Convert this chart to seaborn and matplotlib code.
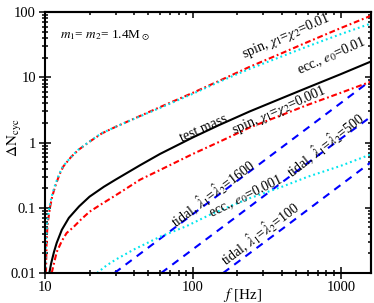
import matplotlib
matplotlib.use("Agg")
import seaborn as sns
import matplotlib.pyplot as plt
from matplotlib.ticker import FixedLocator, NullFormatter

sns.set_theme(style="ticks")
plt.rcParams['font.family'] = ['Liberation Serif', 'DejaVu Serif']
plt.rcParams['mathtext.fontset'] = 'stix'
plt.rcParams['lines.scale_dashes'] = False
plt.rcParams['text.color'] = 'black'
plt.rcParams['axes.labelcolor'] = 'black'

# values
f_spin_hi = [10.15, 10.25, 10.4, 10.8, 11.2, 11.7, 12.5, 13.3, 15, 16.8, 20, 24.2, 30,
             42.6, 60, 100, 150, 242, 400, 600, 1000, 1600]
n_spin_hi = [0.01, 0.03, 0.055, 0.1, 0.15, 0.21, 0.32, 0.43, 0.6, 0.77, 1.03, 1.38, 1.74,
             2.48, 3.5, 5.8, 8.8, 14.5, 23.5, 35, 57, 88]

f_ecc_hi = [10.05, 10.15, 10.35, 10.7, 11.1, 11.6, 12.4, 13.2, 15, 16.7, 20, 24, 30,
            42.6, 60, 100, 150, 242, 400, 600, 1000, 1600]
n_ecc_hi = [0.01, 0.03, 0.06, 0.1, 0.15, 0.21, 0.32, 0.43, 0.6, 0.77, 1.04, 1.38, 1.74,
            2.45, 3.4, 5.6, 8.5, 13.5, 21, 30, 46, 67]

f_test = [10.7, 11.0, 11.5, 12, 13, 14.5, 17, 20, 25, 30, 44, 60, 100, 150, 242, 400,
          600, 1000, 1600]
n_test = [0.01, 0.014, 0.021, 0.029, 0.046, 0.07, 0.105, 0.148, 0.21, 0.27, 0.45, 0.67,
          1.2, 1.85, 3.0, 4.8, 7.0, 11.2, 17.5]

f_spin_lo = [11.1, 11.5, 12, 13, 14, 15.5, 17.5, 20, 25, 30, 44, 60, 100, 150, 242, 400,
             600, 1000, 1600]
n_spin_lo = [0.01, 0.014, 0.021, 0.031, 0.041, 0.05, 0.066, 0.087, 0.12, 0.155, 0.27,
             0.38, 0.67, 1.02, 1.7, 2.65, 3.8, 5.8, 8.6]

f_ecc_lo = [22.5, 26, 30, 40, 60, 90, 130, 177, 242, 400, 600, 1000, 1600]
n_ecc_lo = [0.01, 0.013, 0.016, 0.023, 0.036, 0.052, 0.078, 0.105, 0.14, 0.21, 0.3,
            0.44, 0.66]

f_tidal_1600 = [29.5, 100, 300, 1600]
n_tidal_1600 = [0.01, 0.08, 0.52, 9.0]
f_tidal_500 = [61, 200, 600, 1600]
n_tidal_500 = [0.01, 0.075, 0.49, 2.5]
f_tidal_100 = [160, 400, 1600]
n_tidal_100 = [0.01, 0.047, 0.5]

y_ticks = [0.01, 0.1, 1, 10, 100]
y_ticklabels = ["0.01", "0.1", "1", "10", "100"]
x_ticks = [10, 100, 1000]
x_ticklabels = ["10", "100", "1000"]

fig = plt.figure(figsize=(3.74, 3.03), dpi=100)
ax = fig.add_axes([0.1203, 0.099, 0.8717, 0.861])
ax.set_xscale("log")
ax.set_yscale("log")

red, cyan, blue = "#ff0000", "#00e5ee", "#0000ff"
dashdot = (4.2, 2.0, 1.3, 2.0)
dotted = (1.3, 2.2)
dashed = (5.5, 4.5)

series = [
    (f_tidal_1600, n_tidal_1600, blue, dashed),
    (f_tidal_500, n_tidal_500, blue, dashed),
    (f_tidal_100, n_tidal_100, blue, dashed),
    (f_ecc_lo, n_ecc_lo, cyan, dotted),
    (f_spin_lo, n_spin_lo, red, dashdot),
    (f_test, n_test, "black", None),
    (f_spin_hi, n_spin_hi, red, dashdot),
    (f_ecc_hi, n_ecc_hi, cyan, dotted),
]
for fx, ny, col, ds in series:
    kw = {} if ds is None else {"dashes": ds}
    sns.lineplot(x=fx, y=ny, ax=ax, color=col, lw=1.5, sort=False,
                 estimator=None, **kw)

ax.set_xlim(10, 1600)
ax.set_ylim(0.01, 100)

ax.yaxis.set_major_locator(FixedLocator(y_ticks))
ax.set_yticklabels(y_ticklabels)
ax.xaxis.set_major_locator(FixedLocator(x_ticks))
ax.set_xticklabels(x_ticklabels)
ax.xaxis.set_minor_formatter(NullFormatter())
ax.yaxis.set_minor_formatter(NullFormatter())

for s in ax.spines.values():
    s.set_linewidth(1.5)
    s.set_color("black")
ax.tick_params(which="both", direction="inout", colors="black", width=1.1,
               labelsize=10.5, top=False, right=False)
ax.tick_params(which="major", length=8)
ax.tick_params(which="minor", length=4.5)
ax.tick_params(axis="y", pad=2.5)
ax.tick_params(axis="x", pad=1.5)

secx = ax.secondary_xaxis("top")
secy = ax.secondary_yaxis("right")
for sec in (secx, secy):
    sec.tick_params(which="both", direction="in", colors="black", width=1.1,
                    labeltop=False, labelright=False)
    sec.tick_params(which="major", length=4)
    sec.tick_params(which="minor", length=2.5)
    for s in sec.spines.values():
        s.set_linewidth(1.5)
        s.set_color("black")
secx.xaxis.set_major_formatter(NullFormatter())
secx.xaxis.set_minor_formatter(NullFormatter())
secy.yaxis.set_major_formatter(NullFormatter())
secy.yaxis.set_minor_formatter(NullFormatter())

ax.set_xlabel(r"$f$ [Hz]", fontsize=11)
ax.xaxis.set_label_coords(0.607, -0.05)
ax.set_ylabel(r"$\Delta\mathrm{N}_\mathrm{cyc}$", fontsize=11)
ax.yaxis.set_label_coords(-0.065, 0.52)

ax.text(0.046, 0.91, r"$m_1$= $m_2$= 1.4M$_\odot$", transform=ax.transAxes,
        fontsize=9.5, ha="left", va="center")

notes = [
    (430, 43, r"spin, $\chi_1$=$\chi_2$=0.01", 23.5),
    (870, 21.5, r"ecc., $e_0$=0.01", 24),
    (119, 1.67, "test mass", 24),
    (381, 3.15, r"spin, $\chi_1$=$\chi_2$=0.001", 24),
    (136, 0.168, r"tidal, $\hat{\lambda}_1$=$\hat{\lambda}_2$=1600", 37),
    (228, 0.151, r"ecc., $e_0$=0.001", 26),
    (780, 0.92, r"tidal, $\hat{\lambda}_1$=$\hat{\lambda}_2$=500", 38),
    (284, 0.04, r"tidal, $\hat{\lambda}_1$=$\hat{\lambda}_2$=100", 37),
]
for fx, ny, txt, rot in notes:
    ax.text(fx, ny, txt, rotation=rot, rotation_mode="anchor", ha="center",
            va="center", fontsize=10)

fig.savefig("out.png", dpi=100)
